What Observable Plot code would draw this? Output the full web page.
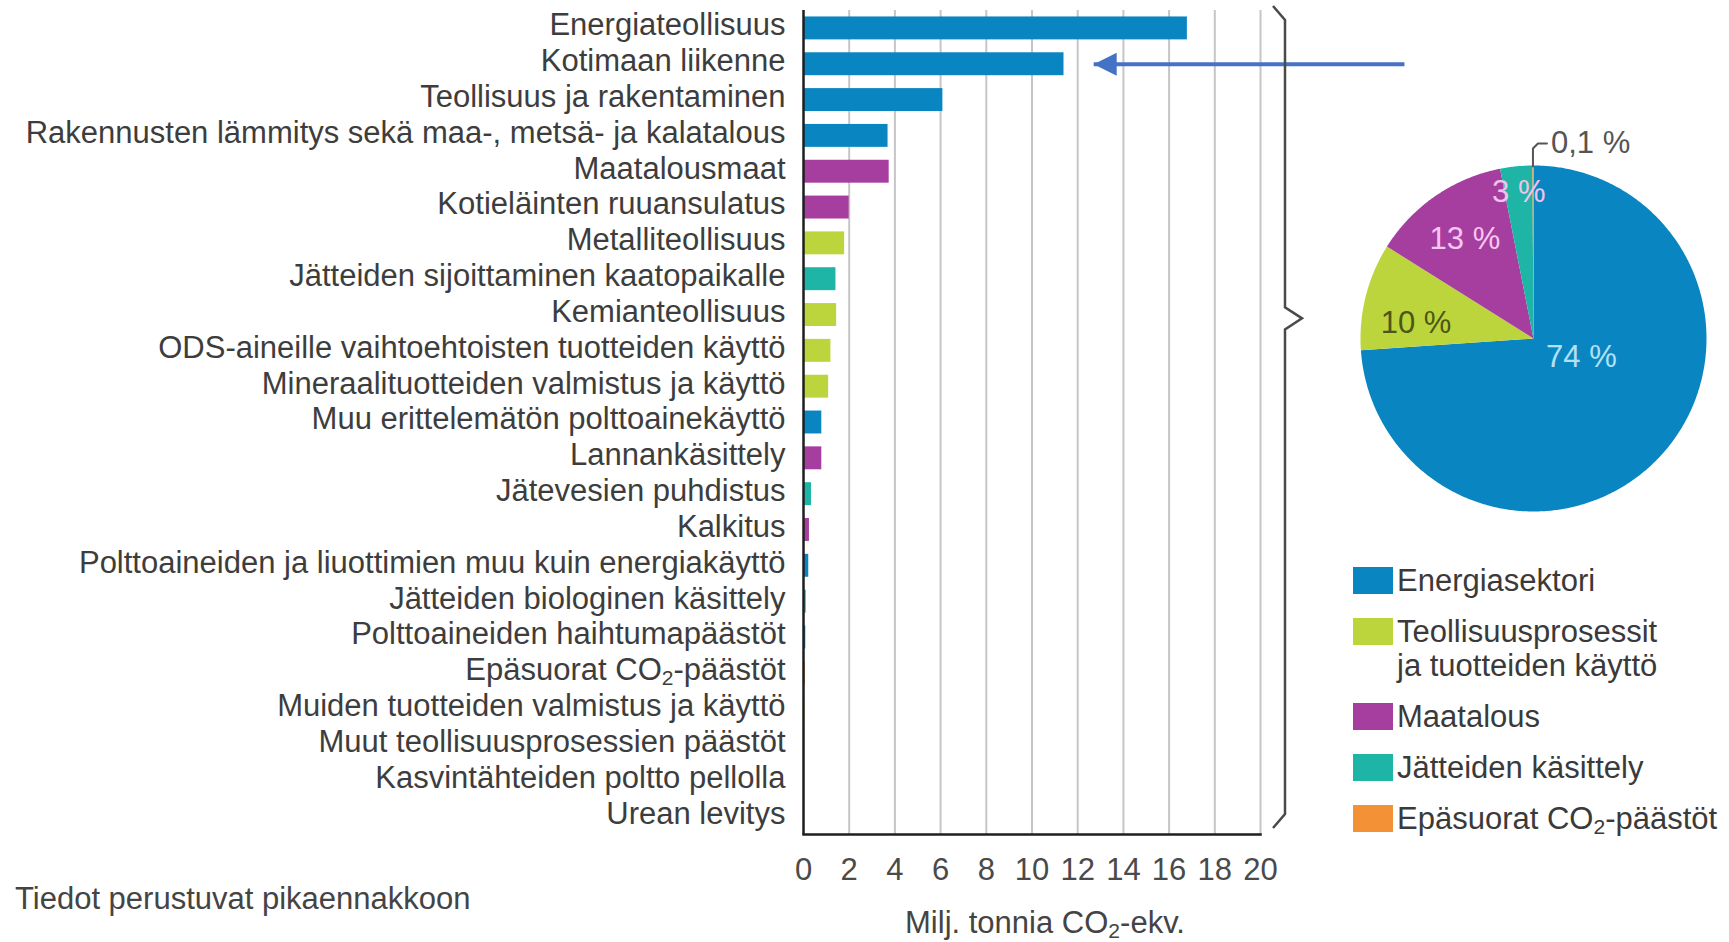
<!DOCTYPE html>
<html>
<head>
<meta charset="utf-8">
<script src="https://cdn.jsdelivr.net/npm/d3@7"></script>
<script src="https://cdn.jsdelivr.net/npm/@observablehq/plot@0.6"></script>
<style>
  html, body { margin: 0; padding: 0; background: #fff; width: 1729px; height: 942px; overflow: hidden; }
  body { font-family: "Liberation Sans", Arial, sans-serif; }
  #wrap { position: relative; width: 1729px; height: 942px; }
  #main { position: absolute; left: 0; top: 0; width: 1729px; height: 942px; }
  #pie { position: absolute; left: 1313px; top: 118px; width: 440px; height: 440px; }
  #wrap svg { max-width: none !important; }
  #legend { position: absolute; left: 1353px; top: 564px; font-size: 31px; color: #3a3a3a; }
  .row { display: flex; align-items: flex-start; margin-bottom: 17px; line-height: 34px; }
  .sw { width: 40px; height: 27px; margin-top: 3px; margin-right: 4px; flex: none; }
  sub { font-size: 0.68em; vertical-align: -0.25em; line-height: 0; }
  #xlabel { position: absolute; left: 1045px; top: 906px; transform: translateX(-50%); font-size: 31px; line-height: 34px; color: #444; white-space: nowrap; }
  #note { position: absolute; left: 15px; top: 882px; font-size: 31px; line-height: 34px; color: #444; white-space: nowrap; }
</style>
</head>
<body>
<div id="wrap">
  <div id="main"></div>
  <div id="pie"></div>
  <div id="legend"></div>
  <div id="xlabel">Milj. tonnia CO<sub>2</sub>-ekv.</div>
  <div id="note">Tiedot perustuvat pikaennakkoon</div>
</div>
<script>
// ---------- data ----------
const categories = [
  "Energiateollisuus",
  "Kotimaan liikenne",
  "Teollisuus ja rakentaminen",
  "Rakennusten lämmitys sekä maa-, metsä- ja kalatalous",
  "Maatalousmaat",
  "Kotieläinten ruuansulatus",
  "Metalliteollisuus",
  "Jätteiden sijoittaminen kaatopaikalle",
  "Kemianteollisuus",
  "ODS-aineille vaihtoehtoisten tuotteiden käyttö",
  "Mineraalituotteiden valmistus ja käyttö",
  "Muu erittelemätön polttoainekäyttö",
  "Lannankäsittely",
  "Jätevesien puhdistus",
  "Kalkitus",
  "Polttoaineiden ja liuottimien muu kuin energiakäyttö",
  "Jätteiden biologinen käsittely",
  "Polttoaineiden haihtumapäästöt",
  "Epäsuorat CO₂-päästöt",
  "Muiden tuotteiden valmistus ja käyttö",
  "Muut teollisuusprosessien päästöt",
  "Kasvintähteiden poltto pellolla",
  "Urean levitys"
];
const values = [16.8, 11.4, 6.1, 3.7, 3.75, 2.0, 1.8, 1.42, 1.45, 1.2, 1.1, 0.8, 0.8, 0.35, 0.26, 0.23, 0.12, 0.1, 0.08, 0.06, 0.05, 0.04, 0.03];
const categorySectors = [
  "Energiasektori", "Energiasektori", "Energiasektori", "Energiasektori",
  "Maatalous", "Maatalous",
  "Teollisuusprosessit ja tuotteiden käyttö",
  "Jätteiden käsittely",
  "Teollisuusprosessit ja tuotteiden käyttö",
  "Teollisuusprosessit ja tuotteiden käyttö",
  "Teollisuusprosessit ja tuotteiden käyttö",
  "Energiasektori",
  "Maatalous",
  "Jätteiden käsittely",
  "Maatalous",
  "Energiasektori",
  "Jätteiden käsittely",
  "Energiasektori",
  "Epäsuorat CO₂-päästöt",
  "Teollisuusprosessit ja tuotteiden käyttö",
  "Teollisuusprosessit ja tuotteiden käyttö",
  "Maatalous",
  "Maatalous"
];
const sectors = ["Energiasektori", "Teollisuusprosessit ja tuotteiden käyttö", "Maatalous", "Jätteiden käsittely", "Epäsuorat CO₂-päästöt"];
const legendLabels = ["Energiasektori", "Teollisuusprosessit<br>ja tuotteiden käyttö", "Maatalous", "Jätteiden käsittely", "Epäsuorat CO<sub>2</sub>-päästöt"];
const sectorColors = ["#0986c1", "#bdd53c", "#a53e9e", "#1fb5a6", "#f39136"];
const sectorShares = [74, 10, 13, 3, 0.1];
const pieLabelColors = ["#b2e1f6", "#4a5716", "#f6c7f0", "#f3c2ec", "#555555"];
const xTicks = [0, 2, 4, 6, 8, 10, 12, 14, 16, 18, 20];
const arrowNote = [{category: "Kotimaan liikenne", from: 26.3, to: 12.7}];

// ---------- main bar chart ----------
const W = 1729, H = 942;
const font = '"Liberation Sans", Arial, sans-serif';
const barData = categories.map((c, i) => ({category: c, value: values[i], sector: categorySectors[i]}));

const leftTriangle = {
  draw(ctx, size) {
    const r = Math.sqrt(size / Math.PI);
    ctx.moveTo(-r, 0);
    ctx.lineTo(r, -r);
    ctx.lineTo(r, r);
    ctx.closePath();
  }
};

const main = Plot.plot({
  width: W, height: H,
  marginLeft: 803, marginRight: W - 1260, marginTop: 10, marginBottom: H - 834,
  style: {fontFamily: font, fontSize: "31px", color: "#3d3d3d", background: "transparent", overflow: "visible"},
  x: {domain: [0, 20], axis: null},
  y: {domain: categories, paddingInner: 0.36, paddingOuter: 0.18, round: false, axis: null},
  color: {domain: sectors, range: sectorColors},
  marks: [
    Plot.gridX(xTicks.filter(t => t > 0), {stroke: "#c6c6c6", strokeWidth: 2, strokeOpacity: 1}),
    Plot.barX(barData, {x: "value", y: "category", fill: "sector"}),
    Plot.ruleX([0], {stroke: "#1e1e1e", strokeWidth: 2.5}),
    Plot.frame({anchor: "bottom", stroke: "#1e1e1e", strokeWidth: 2.5}),
    Plot.axisX({ticks: xTicks, tickSize: 0, tickPadding: 23, color: "#4a4a4a", label: null}),
    Plot.axisY({tickSize: 0, tickPadding: 18, dy: -3, label: null, color: "#3d3d3d"}),
    Plot.link(arrowNote, {x1: "from", x2: "to", y1: "category", y2: "category", stroke: "#4472c4", strokeWidth: 4}),
    Plot.dot(arrowNote, {x: "to", y: "category", symbol: leftTriangle, r: 11.5, dx: 11.5, fill: "#4472c4", stroke: "none"})
  ]
});
document.getElementById("main").appendChild(main);

// subscript in "CO₂" tick label
d3.select(main).selectAll("text").each(function () {
  const t = this.textContent;
  if (t.includes("₂") && this.childElementCount === 0) {
    const [a, b] = t.split("₂");
    const sel = d3.select(this);
    sel.text(null);
    sel.append("tspan").text(a);
    sel.append("tspan").attr("dy", 5).attr("font-size", "21px").text("2");
    sel.append("tspan").attr("dy", -5).text(b);
  }
});

// brace to the right of the bar chart
{
  const xs = main.scale("x"), ys = main.scale("y");
  const x20 = xs.apply(20);
  const [y0, y1] = ys.range;
  const x0 = x20 + 13, xb = x20 + 25, xt = x20 + 42;
  const top = y0 - 4, bot = y1 - 6;
  const tipY = top + (bot - top) * 0.38;
  const path = `M${x0},${top} L${xb},${top + 14} L${xb},${tipY - 11} L${xt},${tipY} L${xb},${tipY + 11} L${xb},${bot - 14} L${x0},${bot}`;
  d3.select(main).append("path").attr("d", path).attr("fill", "none").attr("stroke", "#4a4a4a").attr("stroke-width", 2.5).attr("stroke-linejoin", "miter");
}

// ---------- pie ----------
const R = 173;
const pieData = sectors.map((s, i) => ({sector: s, share: sectorShares[i], labelColor: pieLabelColors[i]}));
const arcs = d3.pie().sort(null).value(d => d.share)(pieData);
const piePts = [];
arcs.forEach(a => {
  piePts.push({sector: a.data.sector, x: 0, y: 0});
  const n = Math.max(2, Math.ceil((a.endAngle - a.startAngle) / (Math.PI / 360)));
  for (let k = 0; k <= n; k++) {
    const t = a.startAngle + (a.endAngle - a.startAngle) * k / n;
    piePts.push({sector: a.data.sector, x: R * Math.sin(t), y: R * Math.cos(t)});
  }
});
const fmt = v => String(v).replace(".", ",") + " %";
const labelPos = arcs.map(a => {
  const m = (a.startAngle + a.endAngle) / 2;
  const share = a.data.share;
  const f = share > 50 ? 0.3 : share > 5 ? 0.7 : 0.85;
  return {...a.data, mid: m, x: f * R * Math.sin(m), y: f * R * Math.cos(m), text: fmt(share)};
});
const bigLabels = labelPos.filter(d => d.share > 50);
const midLabels = labelPos.filter(d => d.share <= 50 && d.share >= 1);
const tinyLabels = labelPos.filter(d => d.share < 1).map(d => ({...d, x: R * Math.sin(d.mid), y: R}));
const leader = tinyLabels.flatMap(d => [
  {id: d.sector, x: d.x, y: R - 1},
  {id: d.sector, x: d.x, y: R + 17},
  {id: d.sector, x: d.x + 5, y: R + 22},
  {id: d.sector, x: d.x + 14, y: R + 22}
]);

const pieMarks = [
  Plot.line(piePts, {x: "x", y: "y", z: "sector", fill: "sector", stroke: "none", curve: "linear-closed"}),
  Plot.line(leader, {x: "x", y: "y", z: "id", stroke: "#555", strokeWidth: 2}),
  Plot.text(tinyLabels, {x: "x", y: d => d.y + 22, text: "text", textAnchor: "start", dx: 18, fill: "#555", fontSize: 31})
];
bigLabels.forEach(d => pieMarks.push(Plot.text([d], {x: "x", y: "y", text: "text", dx: 10, dy: -17, fill: d.labelColor, fontSize: 31})));
midLabels.forEach(d => pieMarks.push(Plot.text([d], {x: "x", y: "y", text: "text", fill: d.labelColor, fontSize: 31, dy: d.share >= 10 && d.share < 12 ? 14 : 0})));

const pie = Plot.plot({
  width: 440, height: 440, margin: 0,
  style: {fontFamily: font, background: "transparent", overflow: "visible"},
  x: {domain: [-220, 220], axis: null},
  y: {domain: [-220, 220], axis: null},
  color: {domain: sectors, range: sectorColors},
  marks: pieMarks
});
document.getElementById("pie").appendChild(pie);

// ---------- legend ----------
const legend = document.getElementById("legend");
sectors.forEach((s, i) => {
  const row = document.createElement("div");
  row.className = "row";
  row.innerHTML = `<div class="sw" style="background:${sectorColors[i]}"></div><div>${legendLabels[i]}</div>`;
  legend.appendChild(row);
});
</script>
</body>
</html>
